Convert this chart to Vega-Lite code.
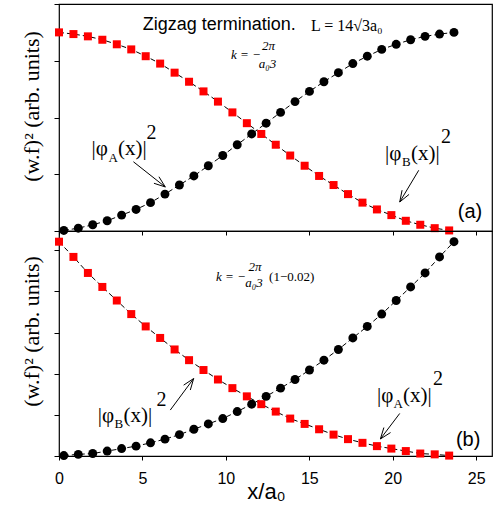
{
"$schema": "https://vega.github.io/schema/vega-lite/v6.json",
"background": "white",
"autosize": {"type": "pad"},
"padding": {"left": 19, "top": 2, "right": 0, "bottom": 0},
"spacing": 0,
"bounds": "flush",
"config": {
  "view": {"stroke": "black", "strokeWidth": 1.2},
  "axis": {"grid": false, "domain": false, "tickColor": "black", "tickWidth": 1, "labelColor": "black", "titleColor": "black", "labelFlush": false},
  "text": {"color": "black"}
},
"datasets": {
  "top": [
    {"s":"B","x":0,"y":3.50},{"s":"B","x":0.866,"y":3.47},{"s":"B","x":1.732,"y":3.43},{"s":"B","x":2.598,"y":3.37},{"s":"B","x":3.464,"y":3.29},{"s":"B","x":4.33,"y":3.20},{"s":"B","x":5.196,"y":3.08},{"s":"B","x":6.062,"y":2.95},{"s":"B","x":6.928,"y":2.79},{"s":"B","x":7.794,"y":2.63},{"s":"B","x":8.66,"y":2.46},{"s":"B","x":9.526,"y":2.28},{"s":"B","x":10.392,"y":2.09},{"s":"B","x":11.258,"y":1.90},{"s":"B","x":12.124,"y":1.71},{"s":"B","x":12.99,"y":1.52},{"s":"B","x":13.856,"y":1.33},{"s":"B","x":14.722,"y":1.15},{"s":"B","x":15.588,"y":0.97},{"s":"B","x":16.454,"y":0.81},{"s":"B","x":17.321,"y":0.65},{"s":"B","x":18.187,"y":0.50},{"s":"B","x":19.053,"y":0.38},{"s":"B","x":19.919,"y":0.28},{"s":"B","x":20.785,"y":0.18},{"s":"B","x":21.651,"y":0.11},{"s":"B","x":22.517,"y":0.05},{"s":"B","x":23.383,"y":0.01},
    {"s":"A","x":0.289,"y":0.01},{"s":"A","x":1.155,"y":0.05},{"s":"A","x":2.021,"y":0.11},{"s":"A","x":2.887,"y":0.18},{"s":"A","x":3.753,"y":0.28},{"s":"A","x":4.619,"y":0.38},{"s":"A","x":5.485,"y":0.50},{"s":"A","x":6.351,"y":0.65},{"s":"A","x":7.217,"y":0.81},{"s":"A","x":8.083,"y":0.97},{"s":"A","x":8.949,"y":1.15},{"s":"A","x":9.815,"y":1.33},{"s":"A","x":10.681,"y":1.52},{"s":"A","x":11.547,"y":1.71},{"s":"A","x":12.413,"y":1.90},{"s":"A","x":13.279,"y":2.09},{"s":"A","x":14.145,"y":2.28},{"s":"A","x":15.011,"y":2.46},{"s":"A","x":15.877,"y":2.63},{"s":"A","x":16.743,"y":2.79},{"s":"A","x":17.609,"y":2.95},{"s":"A","x":18.475,"y":3.08},{"s":"A","x":19.341,"y":3.20},{"s":"A","x":20.207,"y":3.29},{"s":"A","x":21.073,"y":3.37},{"s":"A","x":21.939,"y":3.43},{"s":"A","x":22.805,"y":3.47},{"s":"A","x":23.671,"y":3.50}
  ],
  "bottom": [
    {"s":"B","x":0,"y":5.21},{"s":"B","x":0.866,"y":4.84},{"s":"B","x":1.732,"y":4.45},{"s":"B","x":2.598,"y":4.11},{"s":"B","x":3.464,"y":3.78},{"s":"B","x":4.33,"y":3.45},{"s":"B","x":5.196,"y":3.15},{"s":"B","x":6.062,"y":2.87},{"s":"B","x":6.928,"y":2.59},{"s":"B","x":7.794,"y":2.33},{"s":"B","x":8.66,"y":2.09},{"s":"B","x":9.526,"y":1.86},{"s":"B","x":10.392,"y":1.65},{"s":"B","x":11.258,"y":1.45},{"s":"B","x":12.124,"y":1.26},{"s":"B","x":12.99,"y":1.08},{"s":"B","x":13.856,"y":0.91},{"s":"B","x":14.722,"y":0.78},{"s":"B","x":15.588,"y":0.65},{"s":"B","x":16.454,"y":0.52},{"s":"B","x":17.321,"y":0.41},{"s":"B","x":18.187,"y":0.32},{"s":"B","x":19.053,"y":0.24},{"s":"B","x":19.919,"y":0.18},{"s":"B","x":20.785,"y":0.12},{"s":"B","x":21.651,"y":0.06},{"s":"B","x":22.517,"y":0.04},{"s":"B","x":23.383,"y":0.01},
    {"s":"A","x":0.289,"y":0.01},{"s":"A","x":1.155,"y":0.04},{"s":"A","x":2.021,"y":0.06},{"s":"A","x":2.887,"y":0.12},{"s":"A","x":3.753,"y":0.18},{"s":"A","x":4.619,"y":0.24},{"s":"A","x":5.485,"y":0.32},{"s":"A","x":6.351,"y":0.41},{"s":"A","x":7.217,"y":0.52},{"s":"A","x":8.083,"y":0.65},{"s":"A","x":8.949,"y":0.78},{"s":"A","x":9.815,"y":0.91},{"s":"A","x":10.681,"y":1.08},{"s":"A","x":11.547,"y":1.26},{"s":"A","x":12.413,"y":1.45},{"s":"A","x":13.279,"y":1.65},{"s":"A","x":14.145,"y":1.86},{"s":"A","x":15.011,"y":2.09},{"s":"A","x":15.877,"y":2.33},{"s":"A","x":16.743,"y":2.59},{"s":"A","x":17.609,"y":2.87},{"s":"A","x":18.475,"y":3.15},{"s":"A","x":19.341,"y":3.45},{"s":"A","x":20.207,"y":3.78},{"s":"A","x":21.073,"y":4.11},{"s":"A","x":21.939,"y":4.45},{"s":"A","x":22.805,"y":4.84},{"s":"A","x":23.671,"y":5.21}
  ],
  "arrowsTop": [
    {"x":4.46,"y":1.22,"x2":6.37,"y2":0.776},{"x":6.37,"y":0.776,"x2":5.99,"y2":0.956},{"x":6.37,"y":0.776,"x2":5.69,"y2":0.841},
    {"x":21.56,"y":1.07,"x2":20.42,"y2":0.511},{"x":20.42,"y":0.511,"x2":20.98,"y2":0.645},{"x":20.42,"y":0.511,"x2":20.56,"y2":0.719}
  ],
  "arrowsBottom": [
    {"x":6.67,"y":1.117,"x2":8.07,"y2":1.883},{"x":8.07,"y":1.883,"x2":7.47,"y2":1.723},{"x":8.07,"y":1.883,"x2":7.87,"y2":1.604},
    {"x":20.42,"y":1.034,"x2":19.26,"y2":0.413},{"x":19.26,"y":0.413,"x2":19.87,"y2":0.570},{"x":19.26,"y":0.413,"x2":19.47,"y2":0.692}
  ],
  "phiMainTop": [{"x":1.95,"y":1.336,"t":"|φ"},{"x":3.54,"y":1.336,"t":"(x)|"},{"x":19.54,"y":1.256,"t":"|φ"},{"x":21.10,"y":1.256,"t":"(x)|"}],
  "phiSubTop": [{"x":2.97,"y":1.221,"t":"A"},{"x":20.56,"y":1.142,"t":"B"}],
  "phiSupTop": [{"x":5.245,"y":1.626,"t":"2"},{"x":22.89,"y":1.556,"t":"2"}],
  "phiMainBottom": [{"x":2.32,"y":0.837,"t":"|φ"},{"x":3.87,"y":0.837,"t":"(x)|"},{"x":19.06,"y":1.323,"t":"|φ"},{"x":20.62,"y":1.323,"t":"(x)|"}],
  "phiSubBottom": [{"x":3.33,"y":0.680,"t":"B"},{"x":20.05,"y":1.165,"t":"A"}],
  "phiSupBottom": [{"x":5.85,"y":1.226,"t":"2"},{"x":22.42,"y":1.735,"t":"2"}],
  "titleTop": [{"x":5.02,"y":3.635,"t":"Zigzag termination."}],
  "lenTop": [{"x":15.10,"y":3.62,"t":"L = 14√3a₀"}],
  "kTop": [{"x":10.31,"y":3.10,"t":"k = −"}],
  "fracTop": [{"x":12.56,"y":3.26,"t":"2π"},{"x":12.50,"y":2.95,"t":"a₀3"}],
  "kBottom": [{"x":9.41,"y":4.357,"t":"k = −"}],
  "fracBottom": [{"x":11.75,"y":4.60,"t":"2π"},{"x":11.69,"y":4.194,"t":"a₀3"}],
  "factorBottom": [{"x":12.59,"y":4.357,"t":"(1−0.02)"}],
  "tagTop": [{"x":23.90,"y":0.34,"t":"(a)"}],
  "tagBottom": [{"x":23.79,"y":0.40,"t":"(b)"}]
},
"vconcat": [
  {
    "width": 433, "height": 227,
    "encoding": {
      "x": {"field": "x", "type": "quantitative", "scale": {"domain": [0, 25.95], "nice": false, "zero": false},
            "axis": {"values": [0,5,10,15,20,25], "labels": false, "title": null, "tickSize": 4}},
      "y": {"field": "y", "type": "quantitative", "scale": {"domain": [0, 4], "nice": false},
            "axis": {"values": [0,1,2,3,4], "labels": false, "tickSize": 5, "title": "(w.f)² (arb. units)",
                     "titleFont": "Liberation Serif", "titleFontSize": 22, "titleFontWeight": "normal",
                     "titleAngle": -90, "titleX": -28, "titleY": 102, "titleAlign": "center", "titleBaseline": "middle"}}
    },
    "layer": [
      {"data": {"name": "top"}, "mark": {"type": "line", "color": "black", "strokeWidth": 1, "strokeDash": [5, 3]}, "encoding": {"detail": {"field": "s"}}},
      {"data": {"name": "top"}, "transform": [{"filter": "datum.s === 'B'"}], "mark": {"type": "point", "shape": "square", "filled": true, "color": "#ff0000", "size": 64, "opacity": 1}},
      {"data": {"name": "top"}, "transform": [{"filter": "datum.s === 'A'"}], "mark": {"type": "circle", "color": "black", "size": 80, "opacity": 1}},
      {"data": {"name": "arrowsTop"}, "mark": {"type": "rule", "color": "black", "strokeWidth": 1}, "encoding": {"x2": {"field": "x2"}, "y2": {"field": "y2"}}},
      {"data": {"name": "phiMainTop"}, "mark": {"type": "text", "font": "Liberation Serif", "fontSize": 21, "align": "left", "baseline": "alphabetic"}, "encoding": {"text": {"field": "t"}}},
      {"data": {"name": "phiSubTop"}, "mark": {"type": "text", "font": "Liberation Serif", "fontSize": 13, "align": "left", "baseline": "alphabetic"}, "encoding": {"text": {"field": "t"}}},
      {"data": {"name": "phiSupTop"}, "mark": {"type": "text", "font": "Liberation Serif", "fontSize": 20, "align": "left", "baseline": "alphabetic"}, "encoding": {"text": {"field": "t"}}},
      {"data": {"name": "titleTop"}, "mark": {"type": "text", "font": "Liberation Sans", "fontSize": 18, "align": "left", "baseline": "middle"}, "encoding": {"text": {"field": "t"}}},
      {"data": {"name": "lenTop"}, "mark": {"type": "text", "font": "Liberation Serif", "fontSize": 16, "align": "left", "baseline": "middle"}, "encoding": {"text": {"field": "t"}}},
      {"data": {"name": "kTop"}, "mark": {"type": "text", "font": "Liberation Serif", "fontSize": 13, "fontStyle": "italic", "align": "left", "baseline": "middle"}, "encoding": {"text": {"field": "t"}}},
      {"data": {"name": "fracTop"}, "mark": {"type": "text", "font": "Liberation Serif", "fontSize": 13, "fontStyle": "italic", "align": "center", "baseline": "middle"}, "encoding": {"text": {"field": "t"}}},
      {"data": {"name": "tagTop"}, "mark": {"type": "text", "font": "Liberation Sans", "fontSize": 20, "align": "left", "baseline": "middle"}, "encoding": {"text": {"field": "t"}}}
    ]
  },
  {
    "width": 433, "height": 225,
    "encoding": {
      "x": {"field": "x", "type": "quantitative", "scale": {"domain": [0, 25.95], "nice": false, "zero": false},
            "axis": {"values": [0,5,10,15,20,25], "labelFont": "Liberation Sans", "labelFontSize": 16, "labelPadding": 10, "tickSize": 4,
                     "title": "x/a₀", "titleFont": "Liberation Sans", "titleFontSize": 22, "titleFontWeight": "normal",
                     "titleX": 207, "titleY": 42, "titleAlign": "center", "titleBaseline": "alphabetic"}},
      "y": {"field": "y", "type": "quantitative", "scale": {"domain": [0, 5.47], "nice": false},
            "axis": {"values": [0,1,2,3,4,5], "labels": false, "tickSize": 5, "title": "(w.f)² (arb. units)",
                     "titleFont": "Liberation Serif", "titleFontSize": 22, "titleFontWeight": "normal",
                     "titleAngle": -90, "titleX": -28, "titleY": 100, "titleAlign": "center", "titleBaseline": "middle"}}
    },
    "layer": [
      {"data": {"name": "bottom"}, "mark": {"type": "line", "color": "black", "strokeWidth": 1, "strokeDash": [5, 3]}, "encoding": {"detail": {"field": "s"}}},
      {"data": {"name": "bottom"}, "transform": [{"filter": "datum.s === 'B'"}], "mark": {"type": "point", "shape": "square", "filled": true, "color": "#ff0000", "size": 64, "opacity": 1}},
      {"data": {"name": "bottom"}, "transform": [{"filter": "datum.s === 'A'"}], "mark": {"type": "circle", "color": "black", "size": 80, "opacity": 1}},
      {"data": {"name": "arrowsBottom"}, "mark": {"type": "rule", "color": "black", "strokeWidth": 1}, "encoding": {"x2": {"field": "x2"}, "y2": {"field": "y2"}}},
      {"data": {"name": "phiMainBottom"}, "mark": {"type": "text", "font": "Liberation Serif", "fontSize": 21, "align": "left", "baseline": "alphabetic"}, "encoding": {"text": {"field": "t"}}},
      {"data": {"name": "phiSubBottom"}, "mark": {"type": "text", "font": "Liberation Serif", "fontSize": 13, "align": "left", "baseline": "alphabetic"}, "encoding": {"text": {"field": "t"}}},
      {"data": {"name": "phiSupBottom"}, "mark": {"type": "text", "font": "Liberation Serif", "fontSize": 20, "align": "left", "baseline": "alphabetic"}, "encoding": {"text": {"field": "t"}}},
      {"data": {"name": "kBottom"}, "mark": {"type": "text", "font": "Liberation Serif", "fontSize": 13, "fontStyle": "italic", "align": "left", "baseline": "middle"}, "encoding": {"text": {"field": "t"}}},
      {"data": {"name": "fracBottom"}, "mark": {"type": "text", "font": "Liberation Serif", "fontSize": 13, "fontStyle": "italic", "align": "center", "baseline": "middle"}, "encoding": {"text": {"field": "t"}}},
      {"data": {"name": "factorBottom"}, "mark": {"type": "text", "font": "Liberation Serif", "fontSize": 13, "align": "left", "baseline": "middle"}, "encoding": {"text": {"field": "t"}}},
      {"data": {"name": "tagBottom"}, "mark": {"type": "text", "font": "Liberation Sans", "fontSize": 20, "align": "left", "baseline": "middle"}, "encoding": {"text": {"field": "t"}}}
    ]
  }
]
}
